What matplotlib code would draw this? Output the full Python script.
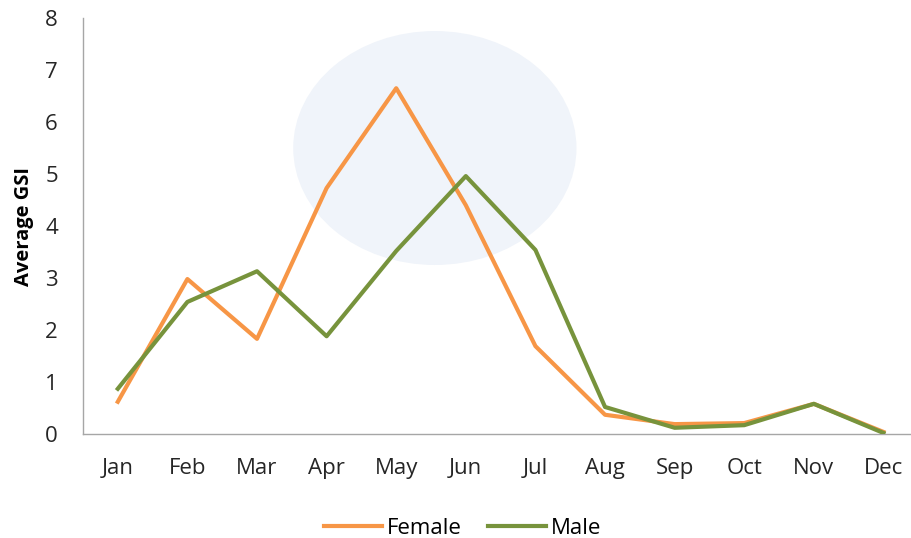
import numpy as np
from matplotlib import pyplot as plt
from matplotlib.patches import Ellipse

months = ["Jan", "Feb", "Mar", "Apr", "May", "Jun", "Jul", "Aug", "Sep", "Oct", "Nov", "Dec"]
female = [0.62, 2.98, 1.83, 4.73, 6.65, 4.40, 1.69, 0.37, 0.19, 0.21, 0.58, 0.04]
male = [0.87, 2.54, 3.13, 1.88, 3.52, 4.96, 3.54, 0.52, 0.12, 0.17, 0.58, 0.02]

plt.rcParams['font.family'] = ['Open Sans', 'DejaVu Sans']

fig = plt.figure(figsize=(9.12, 5.38), dpi=100)
ax = fig.add_axes([0.091, 0.1933, 0.909, 0.7732])

x = np.arange(len(months))

# highlight blob behind the peak
ax.add_patch(Ellipse((4.555, 5.5), 4.07, 4.5, facecolor="#F0F4FA", edgecolor="none", zorder=0))

ax.plot(x, female, color="#F79646", lw=3, label="Female", zorder=3, solid_joinstyle="round")
ax.plot(x, male, color="#77933C", lw=3, label="Male", zorder=4, solid_joinstyle="round")

ax.set_xlim(-0.5, 11.41)
ax.set_ylim(0, 8)
ax.set_xticks(x)
ax.set_xticklabels(months)
ax.set_yticks(range(9))
ax.tick_params(axis="both", length=0, labelsize=16, colors="#262626")
ax.tick_params(axis="x", pad=17)
ax.tick_params(axis="y", pad=18)

for s in ["top", "right"]:
    ax.spines[s].set_visible(False)
for s in ["left", "bottom"]:
    ax.spines[s].set_color("#A6A6A6")
    ax.spines[s].set_linewidth(1)

ax.set_ylabel("Average GSI", fontsize=14.5, fontweight="bold", labelpad=8)

ax.legend(loc="upper center", bbox_to_anchor=(0.458, -0.153), ncol=2, frameon=False,
          fontsize=16, handlelength=2.6, handletextpad=0.2, columnspacing=1.2)

fig.savefig("out.png", dpi=100)
